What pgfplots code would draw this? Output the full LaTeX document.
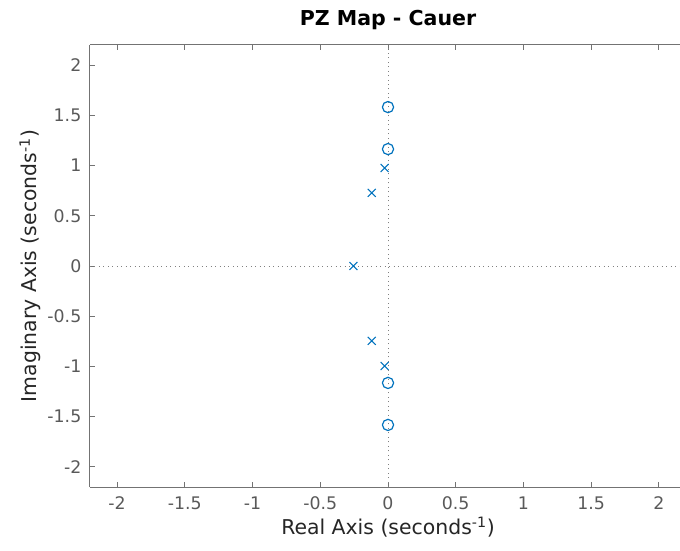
\documentclass[border=0pt]{standalone}
\usepackage{fontspec}
\setmainfont{DejaVu Sans}
\usepackage{pgfplots}
\pgfplotsset{compat=1.18}

\definecolor{mblue}{rgb}{0,0.447,0.741}
\definecolor{axgray}{rgb}{0.45,0.45,0.45}
\definecolor{tickgray}{rgb}{0.35,0.35,0.35}
\definecolor{labgray}{rgb}{0.15,0.15,0.15}

\begin{document}
\begin{tikzpicture}
% the reference is cut off just left of the right border of the box
\clip (-67.5pt,-47.25pt) rectangle (442.5pt,365.25pt);
\begin{axis}[
    at={(0,0)}, anchor=south west,
    scale only axis,
    width=447pt, height=331.5pt,
    xmin=-2.2, xmax=2.2,
    ymin=-2.2, ymax=2.2,
    axis y line*=left,
    xtick={-2,-1.5,-1,-0.5,0,0.5,1,1.5,2},
    xticklabels={-2,-1.5,-1,-0.5,0,0.5,1,1.5,2},
    ytick={-2,-1.5,-1,-0.5,0,0.5,1,1.5,2},
    yticklabels={-2,-1.5,-1,-0.5,0,0.5,1,1.5,2},
    tick align=inside,
    major tick length=4pt,
    axis line style={axgray, line width=0.75pt},
    every tick/.style={axgray, line width=0.75pt},
    tick label style={font=\fontsize{13}{15}\selectfont, text=tickgray},
    xticklabel style={yshift=-4pt},
    yticklabel style={xshift=-3pt},
    xlabel={Real Axis (seconds\textsuperscript{-1})},
    ylabel={Imaginary Axis (seconds\textsuperscript{-1})},
    label style={font=\fontsize{15.3}{18}\selectfont, text=labgray},
    xlabel style={yshift=2pt},
    ylabel style={yshift=-2pt},
    title={\bfseries PZ Map - Cauer},
    title style={font=\fontsize{15.4}{18}\selectfont, yshift=2pt},
    clip=true,
]
% zero lines
\addplot[gray, line width=0.75pt, dash pattern=on 0.75pt off 2.6pt] coordinates {(-2.2,0) (2.2,0)};
\addplot[gray, line width=0.75pt, dash pattern=on 0.75pt off 2.6pt] coordinates {(0,-2.2) (0,2.2)};
% poles
\addplot[only marks, mark=x, mark size=4.2pt, mblue, line width=0.8pt] coordinates {
    (-0.255,0)
    (-0.12,0.728) (-0.12,-0.745)
    (-0.025,0.976) (-0.025,-0.995)
};
% zeros
\addplot[only marks, mark=o, mark size=4.2pt, mblue, line width=0.9pt] coordinates {
    (0,1.582) (0,1.164) (0,-1.164) (0,-1.582)
};
\end{axis}
\end{tikzpicture}
\end{document}
